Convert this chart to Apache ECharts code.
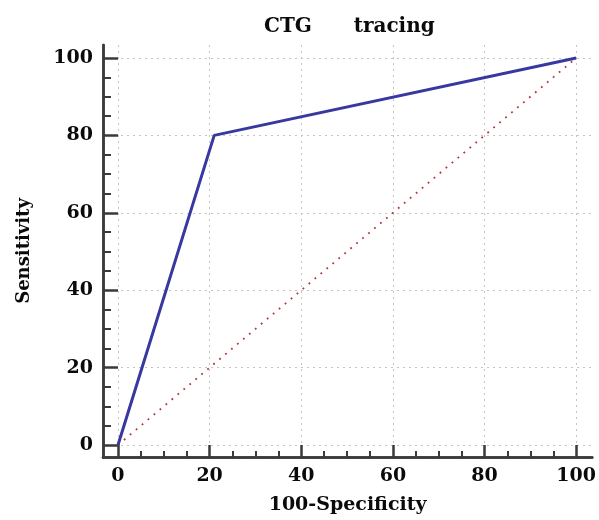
<!DOCTYPE html>
<html>
<head>
<meta charset="utf-8">
<script src="https://cdn.jsdelivr.net/npm/echarts@6/dist/echarts.min.js"></script>
<style>html,body{margin:0;padding:0;background:#fff;}#c{width:599px;height:520px;}</style>
</head>
<body>
<div id="c"></div>
<script>
// Data
const titleText = 'CTG      tracing';
const xName = '100-Specificity';
const yName = 'Sensitivity';
const rocX = [0, 21, 100];
const rocY = [0, 80, 100];
const refX = [0, 100];
const refY = [0, 100];
const majorTicks = [0, 20, 40, 60, 80, 100];
const minorTicks = [5, 10, 15, 25, 30, 35, 45, 50, 55, 65, 70, 75, 85, 90, 95];

const FONT = 'DejaVu Serif';
const axisColor = '#3a3a3a';
const chart = echarts.init(document.getElementById('c'), null, {renderer: 'canvas'});

function majorAxis(isX) {
  return {
    type: 'value',
    position: isX ? 'bottom' : 'left',
    min: isX ? -3.27 : -3.1,
    max: isX ? 103.5 : 103.36,
    name: isX ? xName : yName,
    nameLocation: 'middle',
    nameGap: isX ? 39 : 70,
    nameRotate: isX ? 0 : 90,
    nameTextStyle: {fontFamily: FONT, fontWeight: 'bold', fontSize: isX ? 19 : 18, color: '#0a0a0a'},
    axisLine: {show: true, onZero: false, lineStyle: {color: axisColor, width: 2.5}},
    axisTick: {show: true, inside: true, length: isX ? 12 : 15, customValues: majorTicks, lineStyle: {color: axisColor, width: 2.5}},
    axisLabel: {show: true, customValues: majorTicks, margin: 10, fontFamily: FONT, fontWeight: 'bold', fontSize: 19, color: '#0a0a0a'},
    splitLine: {show: true, lineStyle: {color: '#c4c4c4', width: 1, type: [2, 4]}}
  };
}
function minorAxis(isX) {
  return {
    type: 'value',
    position: isX ? 'bottom' : 'left',
    offset: 0,
    min: isX ? -3.27 : -3.1,
    max: isX ? 103.5 : 103.36,
    axisLine: {show: true, onZero: false, lineStyle: {color: axisColor, width: 2.5}},
    axisTick: {show: true, inside: true, length: isX ? 6 : 8, customValues: minorTicks, lineStyle: {color: axisColor, width: 2}},
    axisLabel: {show: false},
    splitLine: {show: false}
  };
}

chart.setOption({
  backgroundColor: '#fff',
  animation: false,
  title: {
    text: titleText,
    left: 264,
    top: 17,
    padding: 0,
    textStyle: {fontFamily: FONT, fontWeight: 'bold', fontSize: 20, color: '#0a0a0a'}
  },
  grid: {left: 103, right: 6, top: 45, bottom: 63, containLabel: false},
  xAxis: [majorAxis(true), minorAxis(true)],
  yAxis: [majorAxis(false), minorAxis(false)],
  series: [
    {
      type: 'line',
      xAxisIndex: 0, yAxisIndex: 0,
      data: refX.map((x, i) => [x, refY[i]]),
      showSymbol: false,
      lineStyle: {color: '#b03838', width: 1.8, type: [1.8, 6]},
      z: 2
    },
    {
      type: 'line',
      xAxisIndex: 0, yAxisIndex: 0,
      data: rocX.map((x, i) => [x, rocY[i]]),
      showSymbol: false,
      lineStyle: {color: '#3838a0', width: 3},
      z: 3
    }
  ]
});
</script>
</body>
</html>
